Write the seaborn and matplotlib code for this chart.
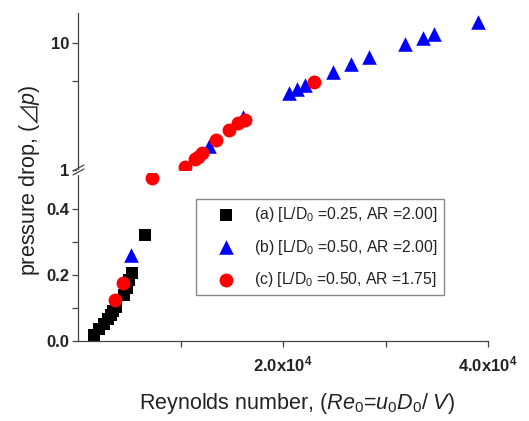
import numpy as np
import pandas as pd
import matplotlib
matplotlib.use("Agg")
import matplotlib.pyplot as plt
from matplotlib.lines import Line2D
from matplotlib.ticker import FixedLocator, NullFormatter
import seaborn as sns

sns.set_style("ticks")
plt.rcParams["font.family"] = ["Liberation Sans", "DejaVu Sans"]
plt.rcParams["mathtext.fontset"] = "custom"
plt.rcParams["mathtext.rm"] = "Liberation Sans"
plt.rcParams["mathtext.it"] = "Liberation Sans:italic"
plt.rcParams["mathtext.bf"] = "Liberation Sans:bold"

# ---- data ----
a_x = [1560, 2050, 2540, 2930, 3220, 3410, 3700, 4490, 4780, 4980, 5270, 6540]
a_y = [0.018, 0.036, 0.052, 0.067, 0.079, 0.091, 0.103, 0.139, 0.160, 0.185, 0.206, 0.321]
b_x = [5170, 12780, 16100, 20590, 21370, 22150, 24880, 26630, 28390, 31900, 33660, 34730, 39020]
b_y = [0.26, 1.545, 2.61, 4.04, 4.34, 4.67, 5.91, 6.83, 7.76, 9.82, 10.9, 11.8, 14.6]
c_x = [3610, 4390, 7220, 10440, 11410, 11710, 12100, 13460, 14730, 15610, 16290, 23020]
c_y = [0.124, 0.176, 0.495, 1.06, 1.22, 1.27, 1.36, 1.72, 2.07, 2.35, 2.47, 4.93]

labels = [r"(a) [L/D$_0$ =0.25, AR =2.00]",
          r"(b) [L/D$_0$ =0.50, AR =2.00]",
          r"(c) [L/D$_0$ =0.50, AR =1.75]"]
colors = ["#000000", "#0000ff", "#ff0000"]
markers = ["s", "^", "o"]
sizes = [75, 110, 100]

x_ticks = [10000, 20000, 30000, 40000]
x_ticklabels = ["", r"$\mathbf{2.0x10^{4}}$", "", r"$\mathbf{4.0x10^{4}}$"]
ylo_ticks = [0.0, 0.2, 0.4]
ylo_ticklabels = ["0.0", "0.2", "0.4"]
yhi_ticks = [1, 10]
yhi_ticklabels = ["1", "10"]

df = pd.concat([
    pd.DataFrame({"x": a_x, "y": a_y, "series": labels[0]}),
    pd.DataFrame({"x": b_x, "y": b_y, "series": labels[1]}),
    pd.DataFrame({"x": c_x, "y": c_y, "series": labels[2]}),
], ignore_index=True)

W, H = 529, 421
fig = plt.figure(figsize=(W / 100, H / 100), dpi=100)
left, right = 78 / W, 488 / W
ax_lo = fig.add_axes([left, 1 - 341 / H, right - left, (341 - 173) / H])
ax_hi = fig.add_axes([left, 1 - 170 / H, right - left, (170 - 13) / H])

spine_col = "#444444"
for i, lab in enumerate(labels):
    lo = df[(df.series == lab) & (df.y < 1)]
    hi = df[(df.series == lab) & (df.y >= 1)]
    sns.scatterplot(data=lo, x="x", y="y", ax=ax_lo, color=colors[i], marker=markers[i],
                    s=sizes[i], linewidth=0, label=lab)
    if len(hi):
        sns.scatterplot(data=hi, x="x", y="y", ax=ax_hi, color=colors[i], marker=markers[i],
                        s=sizes[i], linewidth=0, legend=False)

# lower axis
ax_lo.set_xlim(0, 40000)
ax_lo.set_ylim(0, 168 / 330)
ax_lo.set_xticks(x_ticks)
ax_lo.set_xticklabels(x_ticklabels)
ax_lo.set_yticks(ylo_ticks)
ax_lo.set_yticklabels(ylo_ticklabels, fontweight="bold")
ax_lo.yaxis.set_minor_locator(FixedLocator([0.1, 0.3]))
ax_lo.set_xlabel("")
ax_lo.set_ylabel("")
for s in ["top", "right"]:
    ax_lo.spines[s].set_visible(False)

# upper axis (log)
ax_hi.set_yscale("log")
ax_hi.set_xlim(0, 40000)
ax_hi.set_ylim(1, 17.2)
ax_hi.set_yticks(yhi_ticks)
ax_hi.set_yticklabels(yhi_ticklabels, fontweight="bold")
ax_hi.yaxis.set_minor_locator(FixedLocator([5]))
ax_hi.yaxis.set_minor_formatter(NullFormatter())
ax_hi.set_xticks([])
ax_hi.set_xlabel("")
ax_hi.set_ylabel("")
for s in ["top", "right", "bottom"]:
    ax_hi.spines[s].set_visible(False)

for ax in (ax_lo, ax_hi):
    ax.patch.set_alpha(0)
    for s in ax.spines.values():
        s.set_color(spine_col)
        s.set_linewidth(0.9)
    ax.tick_params(which="both", direction="out", length=4, width=0.9, color=spine_col,
                   labelsize=12, labelcolor="#222222", pad=2)
ax_lo.tick_params(axis="x", pad=6)

# break marks on left spine
def fx(px):
    return px / W
def fy(py):
    return 1 - py / H
fig.add_artist(Line2D([fx(78), fx(78)], [fy(170.5), fy(173.5)], color="white", lw=2.5))
for dy in (0, 4):
    fig.add_artist(Line2D([fx(73), fx(84)], [fy(175 + dy - 4), fy(169 + dy - 4)],
                          color=spine_col, lw=0.9))

# legend
leg = ax_lo.legend(loc="upper left", bbox_to_anchor=(196 / W, 1 - 199 / H),
                   bbox_transform=fig.transFigure, borderaxespad=0, fontsize=11.3,
                   frameon=True, fancybox=False, framealpha=1, edgecolor="#888888",
                   borderpad=0.4, handlelength=3.0, handletextpad=0.3, labelspacing=0.85)
leg.get_frame().set_linewidth(1.0)
for t in leg.get_texts():
    t.set_color("#222222")

# axis labels
fig.text(297 / W, 1 - 403 / H, r"Reynolds number, ($\mathit{Re}_{\mathit{0}}$=$\mathit{u}_{\mathit{0}}\mathit{D}_{\mathit{0}}$/ $\mathit{V}$)",
         ha="center", va="center", fontsize=15.5, color="#222222")
fig.text(30 / W, 1 - 180 / H, "pressure drop, ($\\mathit{\u22bfp}$)", rotation=90,
         ha="center", va="center", fontsize=15.5, color="#222222")

fig.savefig("out.png", dpi=100)
